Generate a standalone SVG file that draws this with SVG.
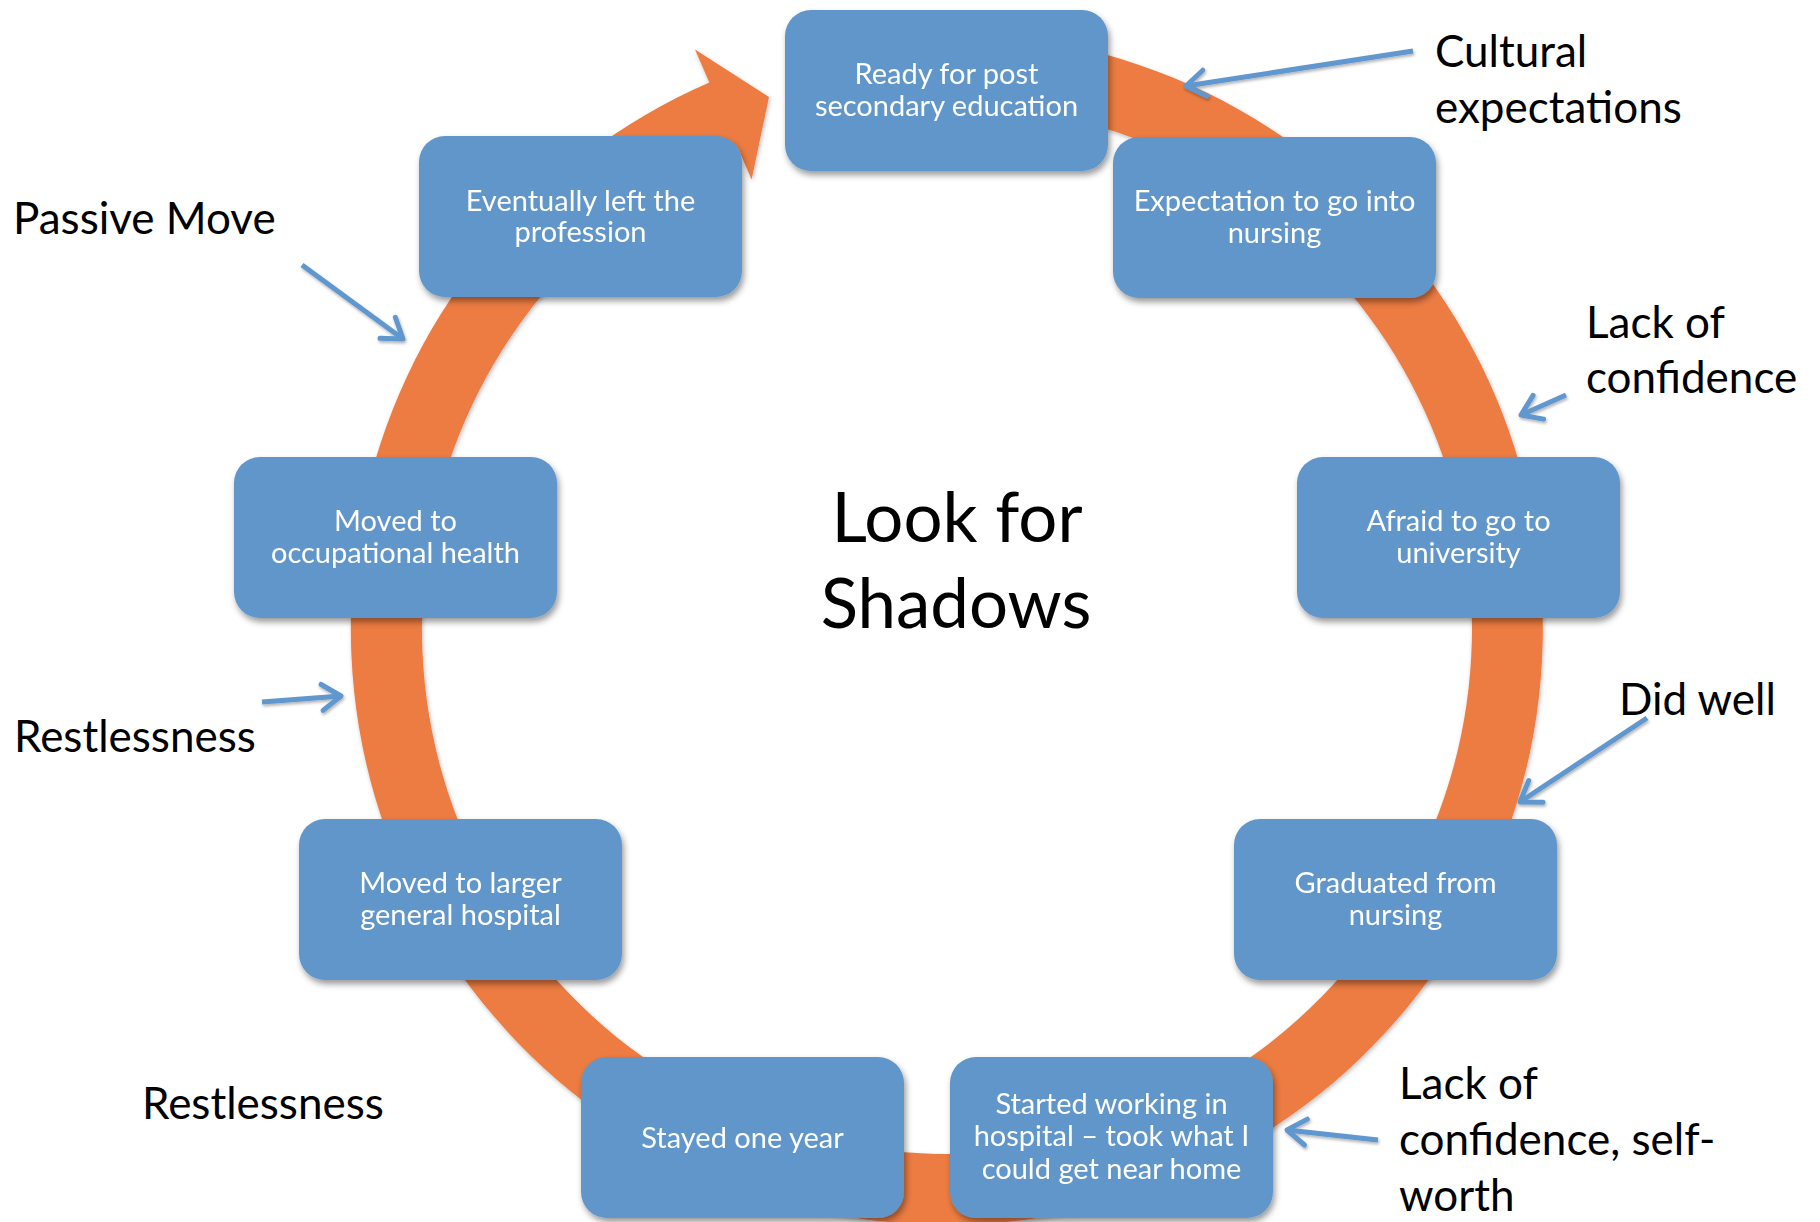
<svg xmlns="http://www.w3.org/2000/svg" width="1820" height="1222" viewBox="0 0 1820 1222">
  <defs>
    <style>
      .box { fill: #6196C9; }
      .nt { font-family: Lato, "Liberation Sans", sans-serif; font-size: 29px; fill: #ffffff; text-anchor: middle; }
      .lbl { font-family: Lato, "Liberation Sans", sans-serif; font-size: 44px; fill: #000000; }
      .title { font-family: Lato, "Liberation Sans", sans-serif; font-size: 69px; fill: #000000; text-anchor: middle; }
      .call { fill: none; stroke: #5F97CE; stroke-width: 5; stroke-linecap: butt; marker-end: url(#chev); }
    </style>
    <filter id="boxShadow" x="-10%" y="-10%" width="120%" height="130%">
      <feDropShadow dx="2" dy="4" stdDeviation="3" flood-color="#000000" flood-opacity="0.4"/>
    </filter>
    <filter id="ringShadow" x="-5%" y="-5%" width="110%" height="110%">
      <feDropShadow dx="1" dy="2" stdDeviation="2" flood-color="#000000" flood-opacity="0.25"/>
    </filter>
    <filter id="lineShadow" x="-10%" y="-10%" width="120%" height="130%">
      <feDropShadow dx="1" dy="2" stdDeviation="1.5" flood-color="#000000" flood-opacity="0.3"/>
    </filter>
    <marker id="chev" viewBox="-26 -16 32 32" markerWidth="32" markerHeight="32" refX="0" refY="0" orient="auto" markerUnits="userSpaceOnUse" overflow="visible">
      <path d="M-19,-13 L0,0 L-19,13" fill="none" stroke="#5F97CE" stroke-width="5" stroke-linecap="round" stroke-linejoin="round"/>
    </marker>
  </defs>

  <rect width="1820" height="1222" fill="#ffffff"/>

  <!-- circular arrow band: centre (947,629), radii 525..596, arrowhead ending near the top -->
  <g id="cycle-ring" filter="url(#ringShadow)">
    <path d="M998.9,35.3 A596,596 0 1 1 709.3,82.4 L695.0,49.4 L769.0,97.0 L751.6,179.6 L737.7,147.5 A525,525 0 1 0 992.8,106.0 Z" fill="#EC7C43"/>
  </g>

  <!-- callout connectors -->
  <g id="connectors" filter="url(#lineShadow)">
    <line class="call" x1="1413" y1="51" x2="1186" y2="86"/>
    <line class="call" x1="1566" y1="395" x2="1521" y2="415"/>
    <line class="call" x1="1647" y1="718" x2="1520" y2="802"/>
    <line class="call" x1="1378" y1="1140" x2="1287" y2="1130"/>
    <line class="call" x1="262" y1="702" x2="341" y2="696"/>
    <line class="call" x1="302" y1="265" x2="403" y2="339"/>
  </g>

  <!-- cycle steps -->
  <g id="node-ready" filter="url(#boxShadow)">
    <rect class="box" x="785" y="10" width="323" height="161" rx="26"/>
    <text class="nt" x="946.5" y="84">Ready for post</text>
    <text class="nt" x="946.5" y="115.5">secondary education</text>
  </g>
  <g id="node-expectation" filter="url(#boxShadow)">
    <rect class="box" x="1113" y="137" width="323" height="161" rx="26"/>
    <text class="nt" x="1274.5" y="211">Expectation to go into</text>
    <text class="nt" x="1274.5" y="242.5">nursing</text>
  </g>
  <g id="node-afraid" filter="url(#boxShadow)">
    <rect class="box" x="1297" y="457" width="323" height="161" rx="26"/>
    <text class="nt" x="1458.5" y="531">Afraid to go to</text>
    <text class="nt" x="1458.5" y="562.5">university</text>
  </g>
  <g id="node-graduated" filter="url(#boxShadow)">
    <rect class="box" x="1234" y="819" width="323" height="161" rx="26"/>
    <text class="nt" x="1395.5" y="893">Graduated from</text>
    <text class="nt" x="1395.5" y="924.5">nursing</text>
  </g>
  <g id="node-started" filter="url(#boxShadow)">
    <rect class="box" x="950" y="1057" width="323" height="161" rx="26"/>
    <text class="nt" x="1111.5" y="1114">Started working in</text>
    <text class="nt" x="1111.5" y="1146">hospital – took what I</text>
    <text class="nt" x="1111.5" y="1178.5">could get near home</text>
  </g>
  <g id="node-stayed" filter="url(#boxShadow)">
    <rect class="box" x="581" y="1057" width="323" height="161" rx="26"/>
    <text class="nt" x="742.5" y="1148">Stayed one year</text>
  </g>
  <g id="node-larger" filter="url(#boxShadow)">
    <rect class="box" x="299" y="819" width="323" height="161" rx="26"/>
    <text class="nt" x="460.5" y="893">Moved to larger</text>
    <text class="nt" x="460.5" y="924.5">general hospital</text>
  </g>
  <g id="node-occupational" filter="url(#boxShadow)">
    <rect class="box" x="234" y="457" width="323" height="161" rx="26"/>
    <text class="nt" x="395.5" y="531">Moved to</text>
    <text class="nt" x="395.5" y="562.5">occupational health</text>
  </g>
  <g id="node-left" filter="url(#boxShadow)">
    <rect class="box" x="419" y="136" width="323" height="161" rx="26"/>
    <text class="nt" x="580.5" y="210.5">Eventually left the</text>
    <text class="nt" x="580.5" y="242">profession</text>
  </g>

  <!-- centre title -->
  <g id="title">
    <text class="title" x="957" y="542">Look for</text>
    <text class="title" x="956" y="628">Shadows</text>
  </g>

  <!-- side annotations -->
  <g id="labels">
    <text class="lbl" x="1435" y="67">Cultural</text>
    <text class="lbl" x="1435" y="123">expectations</text>
    <text class="lbl" x="13" y="234">Passive Move</text>
    <text class="lbl" x="1586" y="338">Lack of</text>
    <text class="lbl" x="1586" y="393">confidence</text>
    <text class="lbl" x="1619" y="715">Did well</text>
    <text class="lbl" x="14" y="752">Restlessness</text>
    <text class="lbl" x="142" y="1119">Restlessness</text>
    <text class="lbl" x="1399" y="1099">Lack of</text>
    <text class="lbl" x="1399" y="1155">confidence, self-</text>
    <text class="lbl" x="1399" y="1211">worth</text>
  </g>
</svg>
